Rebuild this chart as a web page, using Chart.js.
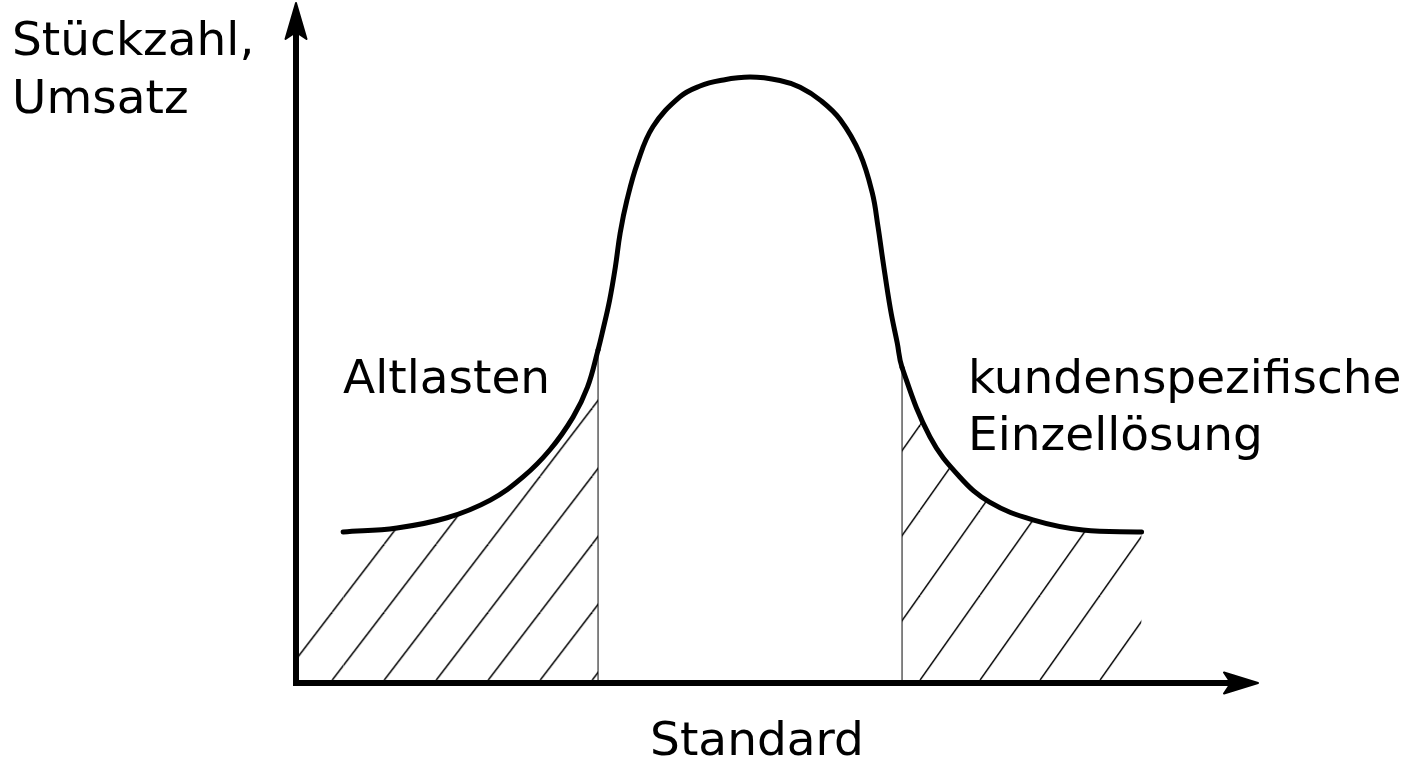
<!DOCTYPE html>
<html>
<head>
<meta charset="utf-8">
<script src="https://cdn.jsdelivr.net/npm/chart.js@4"></script>
<style>
  html, body { margin: 0; background: #fff; }
  #wrap { width: 1410px; height: 762px; }
</style>
</head>
<body>
<div id="wrap"><canvas id="chart"></canvas></div>
<script>
// curve (x: 0..100 along the axis, y: 0..100 up the axis)
const curveX = [4.9, 10.5, 15.7, 20.2, 23.6, 26.4, 28.8, 30.3, 31.4, 31.9, 32.6, 33.2, 33.7, 34.4, 35.5, 37.1, 39.9, 42.0, 44.1, 47.2,
                50.3, 52.4, 54.6, 56.6, 58.6, 59.9, 60.5, 61.0, 61.8, 62.5, 63.0, 65.9, 69.0, 72.1, 76.6, 81.8, 87.9];
const curveY = [22.2, 22.8, 24.3, 26.9, 30.3, 34.3, 39.1, 43.5, 49.0, 51.9, 56.3, 61.2, 66.2, 71.0, 76.5, 81.8, 86.2, 87.8, 88.6, 89.1,
                88.6, 87.6, 85.6, 82.8, 77.9, 72.1, 67.1, 62.2, 54.9, 50.0, 46.4, 36.2, 30.3, 26.6, 24.0, 22.5, 22.2];

// hatched tails end at these two dividers
const dividerX = [31.4, 63.0];
const dividerTop = [49.0, 46.4];
// left of the curve start the hatching only reaches this high
const leftEdgeTop = 13;

const yTitle = ['Stückzahl,', 'Umsatz'];
const xTitle = 'Standard';
const leftLabel = ['Altlasten'];
const rightLabel = ['kundenspezifische', 'Einzellösung'];

const FONT = '47px "DejaVu Sans", Verdana, sans-serif';

// diagonal hatch, w = horizontal spacing, h = vertical spacing, passing through (x0, y0)
function makeHatch(w, h, x0, y0) {
  const c = document.createElement('canvas');
  c.width = w; c.height = h;
  const g = c.getContext('2d');
  g.strokeStyle = '#000';
  g.lineWidth = 1.5;
  for (const dx of [-w, 0, w]) {
    g.beginPath();
    g.moveTo(dx, h);
    g.lineTo(dx + w, 0);
    g.stroke();
  }
  const p = g.createPattern(c, 'repeat');
  const shift = ((x0 + y0 * w / h) % w + w) % w;
  p.setTransform(new DOMMatrix().translate(shift, 0));
  return p;
}
const hatchLeft = makeHatch(52, 68, 330, 683);
const hatchRight = makeHatch(60, 85, 918, 683);
const NONE = 'rgba(0,0,0,0)';

// axes with arrow heads + text labels
const decorations = {
  id: 'decorations',
  afterDatasetsDraw(chart) {
    const { ctx, chartArea: a } = chart;
    ctx.save();
    ctx.strokeStyle = '#000';
    ctx.fillStyle = '#000';
    ctx.lineWidth = 6;
    ctx.lineCap = 'butt';

    // y axis
    ctx.beginPath();
    ctx.moveTo(a.left, a.bottom + 3);
    ctx.lineTo(a.left, a.top + 25);
    ctx.stroke();
    // x axis
    ctx.beginPath();
    ctx.moveTo(a.left - 3, a.bottom);
    ctx.lineTo(a.right - 25, a.bottom);
    ctx.stroke();

    ctx.lineWidth = 2;
    ctx.lineJoin = 'round';
    // up arrow
    ctx.beginPath();
    ctx.moveTo(a.left, a.top);
    ctx.lineTo(a.left + 10.5, a.top + 36);
    ctx.lineTo(a.left, a.top + 29);
    ctx.lineTo(a.left - 10.5, a.top + 36);
    ctx.closePath();
    ctx.fill(); ctx.stroke();
    // right arrow
    ctx.beginPath();
    ctx.moveTo(a.right, a.bottom);
    ctx.lineTo(a.right - 34, a.bottom - 10.5);
    ctx.lineTo(a.right - 27, a.bottom);
    ctx.lineTo(a.right - 34, a.bottom + 10.5);
    ctx.closePath();
    ctx.fill(); ctx.stroke();

    ctx.font = FONT;
    ctx.textBaseline = 'alphabetic';
    ctx.textAlign = 'left';
    yTitle.forEach((t, i) => ctx.fillText(t, 12, 55 + i * 58));
    leftLabel.forEach((t, i) => ctx.fillText(t, 343, 393 + i * 58));
    rightLabel.forEach((t, i) => ctx.fillText(t, 968, 393 + i * 57));
    ctx.textAlign = 'center';
    ctx.fillText(xTitle, 757, 755);
    ctx.restore();
  }
};

const datasets = [{
  // hatch under the flat start, back to the y axis
  data: [{ x: 0, y: leftEdgeTop }, { x: curveX[0], y: leftEdgeTop }],
  borderWidth: 0,
  borderColor: NONE,
  pointRadius: 0,
  fill: 'origin',
  backgroundColor: hatchLeft
}, {
  data: curveX.map((x, i) => ({ x, y: curveY[i] })),
  borderColor: '#000',
  borderWidth: 5,
  borderCapStyle: 'round',
  borderJoinStyle: 'round',
  pointRadius: 0,
  tension: 0.4,
  fill: 'origin',
  backgroundColor: NONE,
  segment: {
    backgroundColor: c => c.p1.parsed.x <= dividerX[0] ? hatchLeft : (c.p0.parsed.x >= dividerX[1] ? hatchRight : NONE)
  }
}];
dividerX.forEach((x, i) => {
  datasets.push({
    data: [{ x, y: 0 }, { x, y: dividerTop[i] }],
    borderColor: '#666',
    borderWidth: 1.6,
    pointRadius: 0,
    fill: false
  });
});

new Chart(document.getElementById('chart'), {
  type: 'line',
  data: { datasets },
  options: {
    responsive: true,
    maintainAspectRatio: false,
    animation: false,
    layout: { padding: { left: 296, right: 152, top: 3, bottom: 79 } },
    scales: {
      x: { type: 'linear', min: 0, max: 100, display: false },
      y: { type: 'linear', min: 0, max: 100, display: false }
    },
    plugins: { legend: { display: false }, tooltip: { enabled: false } }
  },
  plugins: [decorations]
});
</script>
</body>
</html>
